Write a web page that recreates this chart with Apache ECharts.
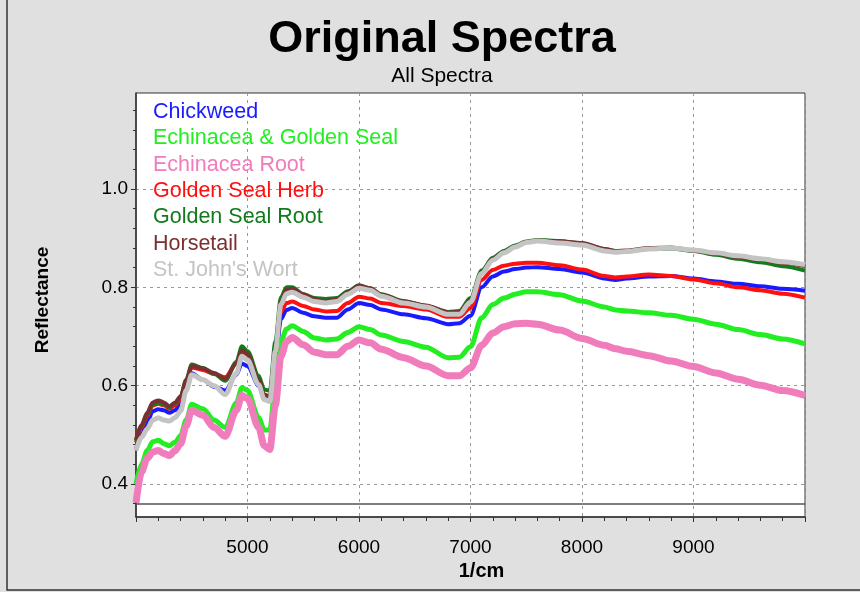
<!DOCTYPE html>
<html>
<head>
<meta charset="utf-8">
<script src="https://cdn.jsdelivr.net/npm/echarts@6/dist/echarts.min.js"></script>
<style>
html,body{margin:0;padding:0;background:#e0e0e0;}
#chart{width:860px;height:592px;}
</style>
</head>
<body>
<div id="chart"></div>
<script>
// Wavenumbers (1/cm)
var wavenumbers = [4000,4050,4100,4150,4200,4250,4300,4350,4400,4450,4500,4600,4700,4800,4900,4950,5000,5100,5150,5200,5250,5300,5350,5400,5500,5600,5700,5800,5900,6000,6100,6200,6400,6600,6800,6900,7000,7100,7200,7300,7400,7500,7600,7800,8000,8200,8300,8400,8600,8800,9000,9200,9400,9600,9800,10000];

var chickweed = [0.470,0.500,0.525,0.548,0.552,0.550,0.545,0.550,0.565,0.600,0.625,0.612,0.598,0.590,0.622,0.645,0.640,0.600,0.578,0.576,0.650,0.735,0.754,0.758,0.748,0.741,0.738,0.738,0.755,0.768,0.764,0.755,0.745,0.737,0.725,0.727,0.742,0.800,0.822,0.832,0.837,0.840,0.841,0.837,0.830,0.818,0.815,0.818,0.822,0.823,0.818,0.812,0.807,0.802,0.797,0.793];

var echinaceaGoldenSeal = [0.400,0.440,0.468,0.486,0.489,0.482,0.478,0.485,0.498,0.530,0.562,0.553,0.530,0.515,0.565,0.596,0.590,0.535,0.510,0.510,0.600,0.690,0.715,0.722,0.710,0.697,0.693,0.695,0.708,0.720,0.714,0.703,0.690,0.678,0.657,0.658,0.679,0.738,0.765,0.778,0.786,0.791,0.791,0.785,0.772,0.760,0.754,0.752,0.748,0.743,0.735,0.725,0.714,0.704,0.695,0.685];

var echinaceaRoot = [0.362,0.425,0.452,0.465,0.468,0.462,0.458,0.468,0.482,0.518,0.550,0.540,0.515,0.497,0.550,0.580,0.574,0.515,0.478,0.470,0.560,0.660,0.690,0.698,0.683,0.668,0.663,0.663,0.680,0.693,0.687,0.674,0.657,0.640,0.620,0.620,0.636,0.682,0.707,0.720,0.726,0.727,0.725,0.713,0.696,0.682,0.675,0.670,0.661,0.650,0.639,0.626,0.613,0.601,0.590,0.580];

var goldenSealHerb = [0.485,0.515,0.538,0.560,0.563,0.560,0.553,0.560,0.574,0.608,0.637,0.632,0.624,0.617,0.645,0.668,0.660,0.610,0.580,0.576,0.665,0.750,0.768,0.771,0.762,0.755,0.751,0.752,0.768,0.781,0.777,0.768,0.762,0.755,0.740,0.740,0.758,0.815,0.835,0.844,0.848,0.850,0.850,0.845,0.836,0.823,0.820,0.822,0.826,0.823,0.816,0.808,0.800,0.794,0.787,0.779];

var goldenSealRoot = [0.488,0.518,0.542,0.562,0.566,0.562,0.556,0.564,0.578,0.612,0.643,0.636,0.624,0.610,0.648,0.680,0.670,0.620,0.592,0.590,0.690,0.780,0.800,0.800,0.786,0.778,0.776,0.778,0.792,0.804,0.798,0.786,0.772,0.762,0.750,0.752,0.778,0.834,0.860,0.874,0.885,0.893,0.896,0.894,0.889,0.878,0.874,0.874,0.878,0.879,0.874,0.866,0.858,0.851,0.843,0.834];

var horsetail = [0.490,0.520,0.545,0.566,0.570,0.566,0.558,0.566,0.578,0.610,0.640,0.635,0.626,0.614,0.645,0.672,0.664,0.612,0.582,0.578,0.675,0.770,0.795,0.797,0.786,0.776,0.772,0.775,0.790,0.803,0.798,0.785,0.771,0.763,0.749,0.750,0.774,0.830,0.857,0.872,0.883,0.892,0.895,0.893,0.890,0.878,0.874,0.875,0.880,0.881,0.875,0.868,0.862,0.856,0.850,0.843];

var stJohnsWort = [0.468,0.495,0.512,0.530,0.535,0.530,0.528,0.535,0.548,0.590,0.622,0.612,0.600,0.582,0.625,0.660,0.652,0.602,0.572,0.568,0.670,0.765,0.787,0.790,0.780,0.771,0.768,0.771,0.786,0.798,0.794,0.782,0.768,0.760,0.745,0.745,0.770,0.828,0.855,0.870,0.882,0.891,0.894,0.890,0.886,0.874,0.871,0.873,0.878,0.880,0.876,0.870,0.864,0.858,0.852,0.846];

var seriesNames = ['Chickweed','Echinacea & Golden Seal','Echinacea Root','Golden Seal Herb','Golden Seal Root','Horsetail',"St. John's Wort"];
var seriesValues = [chickweed, echinaceaGoldenSeal, echinaceaRoot, goldenSealHerb, goldenSealRoot, horsetail, stJohnsWort];
var seriesColors = ['#1a1aff','#22ee22','#f07cbc','#ff1010','#137a1d','#7a3030','#c4c4c4'];
var seriesWidths = [4,5,7,4,4,4,5];

var yMajorTicks = [0.4,0.6,0.8,1.0];
var yMinorTicks = [0.36,0.40,0.44,0.48,0.52,0.56,0.60,0.64,0.68,0.72,0.76,0.80,0.84,0.88,0.92,0.96,1.00,1.04,1.08,1.12,1.16];
var yMin = 0.333, yMax = 1.195;
var baseLineValue = 0.357;

var chart = echarts.init(document.getElementById('chart'), null, {renderer:'canvas'});

var series = seriesNames.map(function(name, i){
  var s = {
    name: name,
    type: 'line',
    data: wavenumbers.map(function(w, k){ return [w, seriesValues[i][k]]; }),
    showSymbol: false,
    smooth: 0.3,
    smoothMonotone: 'x',
    lineStyle: {color: seriesColors[i], width: seriesWidths[i]},
    itemStyle: {color: seriesColors[i]},
    yAxisIndex: 0,
    z: 2 + i
  };
  if (i === 0) {
    s.markLine = {
      silent: true, symbol: 'none', label: {show: false},
      lineStyle: {color: '#555', type: 'solid', width: 1.5},
      data: [{yAxis: baseLineValue}]
    };
  }
  return s;
});

var FONT = 'Liberation Sans, Arial, sans-serif';

chart.setOption({
  backgroundColor: '#e0e0e0',
  animation: false,
  textStyle: {fontFamily: FONT},
  title: {
    text: 'Original Spectra',
    subtext: 'All Spectra',
    left: 437,
    textAlign: 'center',
    top: 12,
    itemGap: 4,
    textStyle: {fontSize: 45, fontWeight: 'bold', color: '#000', fontFamily: FONT},
    subtextStyle: {fontSize: 21, color: '#000', fontFamily: FONT}
  },
  legend: {
    orient: 'vertical',
    left: 143,
    top: 94,
    itemWidth: 0,
    itemHeight: 0,
    itemGap: 0,
    icon: 'rect',
    selectedMode: false,
    textStyle: {fontSize: 21.5, lineHeight: 26.3, fontFamily: FONT},
    data: seriesNames.map(function(n, i){ return {name: n, textStyle: {color: seriesColors[i]}}; })
  },
  grid: {
    left: 136, right: 55, top: 93, bottom: 75,
    show: true, backgroundColor: '#ffffff', borderColor: '#333', borderWidth: 1
  },
  xAxis: {
    type: 'value', min: 4000, max: 10000, interval: 1000,
    name: '1/cm', nameLocation: 'middle', nameGap: 35,
    nameTextStyle: {fontSize: 20, fontWeight: 'bold', color: '#000', padding: [0, 0, 0, 22]},
    axisLine: {lineStyle: {color: '#333', width: 1.5}},
    axisTick: {length: 5, lineStyle: {color: '#333'}},
    minorTick: {show: true, splitNumber: 5, length: 4, lineStyle: {color: '#333'}},
    axisLabel: {fontSize: 19, color: '#000', margin: 21,
      formatter: function(v){ return (v === 4000 || v === 10000) ? '' : String(v); }},
    splitLine: {show: true, lineStyle: {color: '#999', type: [3, 4], width: 1}}
  },
  yAxis: [{
    type: 'value', min: yMin, max: yMax, position: 'left',
    name: 'Reflectance', nameLocation: 'middle', nameGap: 84,
    nameTextStyle: {fontSize: 19, fontWeight: 'bold', color: '#000', padding: [0, 0, 0, 10]},
    axisLine: {show: true, lineStyle: {color: '#333', width: 1.5}},
    axisTick: {show: true, customValues: yMajorTicks, length: 5, lineStyle: {color: '#333'}},
    axisLabel: {customValues: yMajorTicks, fontSize: 19, color: '#000', margin: 8,
      formatter: function(v){ return v.toFixed(1); }},
    splitLine: {show: true, lineStyle: {color: '#999', type: [3, 4], width: 1}}
  }, {
    type: 'value', min: yMin, max: yMax, position: 'left',
    axisLine: {show: false},
    axisTick: {show: true, customValues: yMinorTicks, length: 3, lineStyle: {color: '#333'}},
    axisLabel: {show: false},
    splitLine: {show: false}
  }],
  graphic: [{
    type: 'polyline', silent: true,
    shape: {points: [[7, 0], [7, 590], [860, 590]]},
    style: {stroke: '#333', lineWidth: 1.5, fill: null}
  }],
  series: series
});
</script>
</body>
</html>
